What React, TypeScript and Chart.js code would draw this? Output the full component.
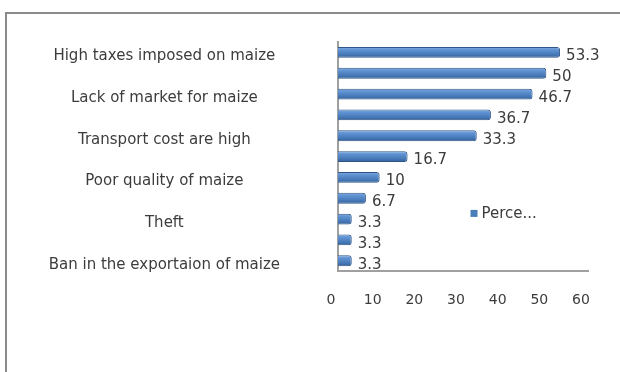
import React, { useEffect, useRef } from "react";
import { Chart, registerables } from "chart.js";

Chart.register(...registerables);

const categories = [
  "High taxes imposed on maize",
  "",
  "Lack of market for maize",
  "",
  "Transport cost are high",
  "",
  "Poor quality of maize",
  "",
  "Theft",
  "",
  "Ban in the exportaion of maize",
];
const values = [53.3, 50, 46.7, 36.7, 33.3, 16.7, 10, 6.7, 3.3, 3.3, 3.3];
const seriesName = "Percentage";
const legendText = "Perce...";
const xMin = 0;
const xMax = 60;
const xStep = 10;

const FONT = "'DejaVu Sans', sans-serif";
const TEXT = "#3c3c3c";
const BAR = "#4a7ebb";
const BAR_EDGE = "#2f5689";

const barFill = (c: any) => {
  const chart = c.chart;
  const yScale = chart.scales && chart.scales.y;
  if (!yScale || c.dataIndex == null || !chart.chartArea) return BAR;
  const mid = yScale.getPixelForValue(c.dataIndex);
  const half = 6;
  const g = chart.ctx.createLinearGradient(0, mid - half, 0, mid + half);
  g.addColorStop(0, "#86afe2");
  g.addColorStop(0.3, "#5f92d2");
  g.addColorStop(0.7, "#4577b6");
  g.addColorStop(1, "#2d5891");
  return g;
};

const framePlugin = {
  id: "frame",
  beforeDraw(chart: any) {
    const ctx = chart.ctx;
    ctx.save();
    ctx.strokeStyle = "#8a8a8a";
    ctx.lineWidth = 2;
    ctx.beginPath();
    ctx.moveTo(6, 372);
    ctx.lineTo(6, 13);
    ctx.lineTo(620, 13);
    ctx.stroke();
    ctx.restore();
  },
};

const valueLabelPlugin = {
  id: "valueLabels",
  afterDatasetsDraw(chart: any) {
    const ctx = chart.ctx;
    const meta = chart.getDatasetMeta(0);
    ctx.save();
    ctx.font = `15px ${FONT}`;
    ctx.fillStyle = TEXT;
    ctx.textAlign = "left";
    ctx.textBaseline = "middle";
    meta.data.forEach((bar: any, i: number) => {
      ctx.fillText(String(values[i]), bar.x + 6, bar.y + 4);
    });
    ctx.restore();
  },
};

const legendPlugin = {
  id: "insideLegend",
  afterDraw(chart: any) {
    const ctx = chart.ctx;
    const area = chart.chartArea;
    const x = area.left + (area.right - area.left) * 0.53;
    const y = area.top + (area.bottom - area.top) * 0.75;
    ctx.save();
    ctx.fillStyle = BAR;
    ctx.fillRect(x, y - 4, 7, 7);
    ctx.font = `15px ${FONT}`;
    ctx.fillStyle = TEXT;
    ctx.textAlign = "left";
    ctx.textBaseline = "middle";
    ctx.fillText(legendText, x + 11, y);
    ctx.restore();
  },
};

export default function App() {
  const ref = useRef<HTMLCanvasElement | null>(null);

  useEffect(() => {
    if (!ref.current) return;
    const chart = new Chart(ref.current, {
      type: "bar",
      data: {
        labels: categories,
        datasets: [
          {
            label: seriesName,
            data: values,
            backgroundColor: barFill,
            borderColor: BAR_EDGE,
            borderWidth: 1,
            borderRadius: 3,
            borderSkipped: "start",
            categoryPercentage: 1,
            barPercentage: 0.52,
          },
        ],
      },
      options: {
        indexAxis: "y",
        animation: false,
        responsive: false,
        maintainAspectRatio: false,
        layout: { padding: { top: 42, right: 32, bottom: 50, left: 0 } },
        plugins: {
          legend: { display: false },
          tooltip: { enabled: false },
        },
        scales: {
          x: {
            min: xMin,
            max: xMax,
            ticks: {
              stepSize: xStep,
              color: TEXT,
              font: { family: FONT, size: 14 },
              padding: 13,
              labelOffset: -7,
            },
            grid: { display: false },
            border: { display: true, color: "#a0a0a0", width: 2 },
          },
          y: {
            afterFit(scale: any) {
              scale.width = 338;
              scale.paddingTop = 0;
              scale.paddingBottom = 0;
            },
            ticks: {
              autoSkip: false,
              crossAlign: "center",
              padding: 50,
              labelOffset: 4,
              color: TEXT,
              font: { family: FONT, size: 15 },
              callback: (_v: any, i: number) => categories[i],
            },
            grid: { display: false },
            border: { display: true, color: "#a0a0a0", width: 2 },
          },
        },
      },
      plugins: [framePlugin, valueLabelPlugin, legendPlugin],
    });
    return () => chart.destroy();
  }, []);

  return (
    <div style={{ position: "absolute", left: 0, top: 0, width: 620, height: 372, background: "#fff" }}>
      <canvas ref={ref} width={620} height={372} style={{ display: "block" }} />
    </div>
  );
}
